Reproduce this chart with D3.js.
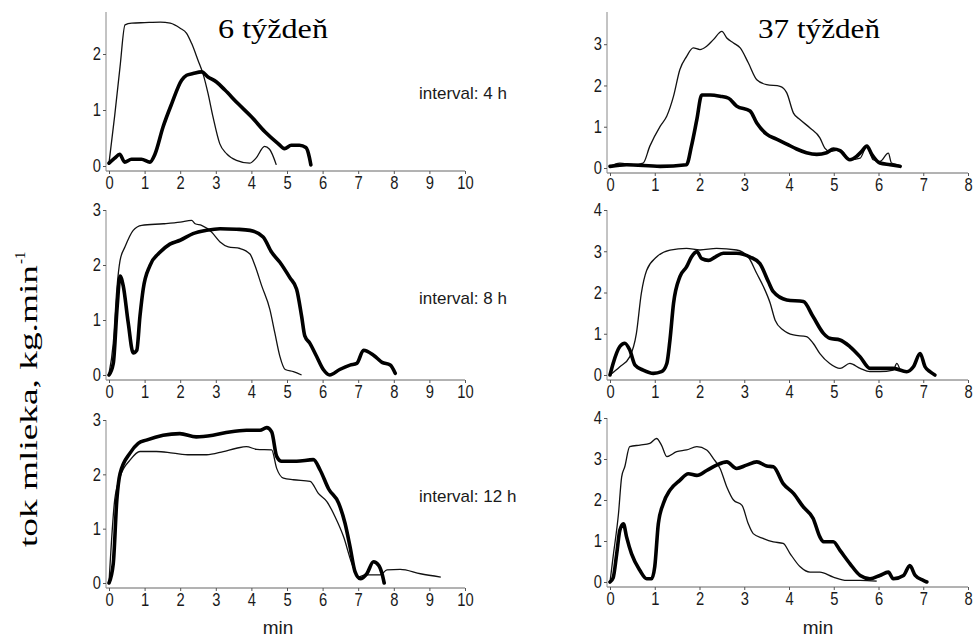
<!DOCTYPE html>
<html>
<head>
<meta charset="utf-8">
<script src="https://cdn.jsdelivr.net/npm/d3@7"></script>
<style>
  body { margin: 0; background: #fff; }
  text { font-family: "Liberation Sans", Arial, sans-serif; }
  .serif { font-family: "Liberation Serif", "Times New Roman", serif; }
</style>
</head>
<body>
<svg id="chart" width="976" height="642"></svg>
<script>
// Milk flow curves, [minute, kg/min]. Thin = control milking, thick = second milking.
// Week 6
const w6i4Thin = [[0,0.05],[0.16,0.9],[0.31,1.77],[0.45,2.52],[0.64,2.55],[1.0,2.56],[1.44,2.57],[1.72,2.55],[2.0,2.46],[2.18,2.37],[2.32,2.19],[2.5,1.89],[2.64,1.65],[2.78,1.3],[2.92,0.88],[3.11,0.4],[3.3,0.22],[3.58,0.1],[3.95,0.05],[4.13,0.14],[4.37,0.35],[4.51,0.3],[4.7,0.02]];
const w6i4Thick = [[0,0.05],[0.16,0.14],[0.3,0.21],[0.44,0.07],[0.63,0.12],[0.91,0.12],[1.15,0.07],[1.29,0.21],[1.52,0.7],[1.76,1.11],[2.04,1.53],[2.18,1.62],[2.36,1.65],[2.6,1.68],[2.78,1.59],[3.02,1.5],[3.25,1.36],[3.63,1.11],[4.0,0.88],[4.38,0.61],[4.75,0.4],[4.93,0.31],[5.12,0.37],[5.35,0.37],[5.53,0.33],[5.63,0.15],[5.67,0.02]];
const w6i8Thin = [[0,0.03],[0.12,0.58],[0.22,1.56],[0.31,2.08],[0.45,2.33],[0.68,2.63],[0.92,2.72],[1.53,2.75],[2.0,2.78],[2.32,2.81],[2.42,2.75],[2.6,2.72],[2.88,2.6],[3.12,2.42],[3.35,2.33],[3.68,2.3],[3.96,2.2],[4.1,1.99],[4.29,1.62],[4.52,1.19],[4.66,0.76],[4.8,0.34],[4.95,0.1],[5.18,0.06],[5.41,0.0]];
const w6i8Thick = [[0,0],[0.12,0.21],[0.23,1.25],[0.31,1.8],[0.4,1.62],[0.54,0.95],[0.68,0.4],[0.78,0.45],[0.87,1.07],[0.96,1.56],[1.15,1.99],[1.43,2.23],[1.71,2.38],[2.0,2.45],[2.36,2.57],[2.74,2.63],[3.12,2.66],[3.58,2.65],[3.96,2.63],[4.33,2.51],[4.57,2.23],[4.8,2.05],[5.08,1.77],[5.27,1.56],[5.41,1.07],[5.5,0.71],[5.64,0.58],[5.83,0.34],[6.02,0.1],[6.2,0.0],[6.48,0.1],[6.77,0.18],[6.96,0.21],[7.15,0.45],[7.43,0.36],[7.67,0.23],[7.9,0.18],[8.04,0.03]];
const w6i12Thin = [[0,0],[0.16,1.53],[0.31,1.95],[0.59,2.26],[0.87,2.42],[1.33,2.42],[1.8,2.39],[2.27,2.36],[2.74,2.36],[3.21,2.42],[3.58,2.48],[3.86,2.51],[4.15,2.46],[4.57,2.45],[4.71,2.11],[4.9,1.93],[5.18,1.9],[5.65,1.87],[5.88,1.65],[6.12,1.5],[6.35,1.22],[6.59,0.85],[6.82,0.36],[7.01,0.11],[7.2,0.15],[7.62,0.15],[7.81,0.24],[8.18,0.25],[8.75,0.17],[9.32,0.11]];
const w6i12Thick = [[0,0],[0.12,0.36],[0.22,1.53],[0.31,2.01],[0.59,2.39],[0.82,2.57],[1.05,2.63],[1.52,2.72],[1.99,2.75],[2.45,2.69],[2.92,2.72],[3.39,2.78],[3.86,2.81],[4.24,2.81],[4.43,2.86],[4.57,2.78],[4.71,2.33],[4.85,2.24],[5.27,2.24],[5.74,2.27],[5.93,2.08],[6.17,1.73],[6.45,1.47],[6.63,1.1],[6.77,0.67],[6.91,0.21],[7.06,0.08],[7.24,0.17],[7.43,0.39],[7.57,0.33],[7.67,0.17],[7.73,0]];
// Week 37
const w37i4Thin = [[0,0.04],[0.22,0.12],[0.52,0.08],[0.74,0.12],[0.89,0.53],[1.12,1.01],[1.27,1.26],[1.42,1.74],[1.56,2.38],[1.71,2.7],[1.86,2.91],[2.01,2.87],[2.16,2.95],[2.31,3.11],[2.5,3.31],[2.61,3.15],[2.76,3.03],[2.91,2.91],[3.09,2.55],[3.28,2.14],[3.5,2.02],[3.8,1.98],[3.95,1.82],[4.1,1.33],[4.25,1.17],[4.47,0.97],[4.69,0.73],[4.8,0.48],[4.91,0.4],[5.14,0.44],[5.36,0.2],[5.59,0.24],[5.74,0.53],[5.88,0.2],[6.03,0.16],[6.22,0.36],[6.29,0.12],[6.41,0.08],[6.52,0.04]];
const w37i4Thick = [[0,0.04],[0.37,0.08],[1.12,0.04],[1.71,0.08],[1.82,0.53],[1.94,1.17],[2.05,1.77],[2.24,1.77],[2.46,1.74],[2.65,1.69],[2.83,1.5],[3.13,1.38],[3.28,1.09],[3.5,0.82],[3.72,0.7],[3.95,0.58],[4.17,0.46],[4.39,0.37],[4.62,0.33],[4.84,0.37],[4.99,0.46],[5.14,0.42],[5.36,0.2],[5.51,0.28],[5.62,0.4],[5.74,0.53],[5.85,0.33],[6.03,0.12],[6.26,0.08],[6.48,0.04]];
const w37i8Thin = [[0,0],[0.22,0.2],[0.44,0.44],[0.59,1.01],[0.7,1.98],[0.82,2.54],[1.04,2.86],[1.34,3.03],[1.71,3.07],[2.01,3.03],[2.38,3.07],[2.83,3.03],[3.09,2.86],[3.28,2.46],[3.43,2.14],[3.58,1.74],[3.69,1.33],[3.87,1.09],[4.1,0.97],[4.39,0.93],[4.54,0.77],[4.69,0.52],[4.91,0.28],[5.14,0.16],[5.36,0.28],[5.59,0.16],[5.81,0.08],[6.03,0.08],[6.33,0.12],[6.41,0.28],[6.48,0.12]];
const w37i8Thick = [[0,0],[0.07,0.28],[0.22,0.69],[0.33,0.77],[0.44,0.61],[0.56,0.24],[0.74,0.12],[0.97,0.04],[1.15,0.08],[1.27,0.28],[1.34,0.85],[1.42,1.74],[1.56,2.38],[1.71,2.62],[1.82,2.86],[1.94,2.99],[2.05,2.82],[2.2,2.78],[2.35,2.86],[2.53,2.95],[2.83,2.95],[3.13,2.86],[3.35,2.7],[3.54,2.26],[3.65,2.02],[3.95,1.82],[4.32,1.78],[4.54,1.41],[4.77,1.01],[4.91,0.89],[5.14,0.85],[5.36,0.69],[5.59,0.44],[5.81,0.16],[6.03,0.16],[6.33,0.16],[6.63,0.08],[6.78,0.2],[6.93,0.52],[7.04,0.2],[7.15,0.08],[7.26,0]];
const w37i12Thin = [[0,0],[0.07,0.62],[0.19,1.67],[0.26,2.56],[0.33,2.81],[0.44,3.3],[0.67,3.34],[0.89,3.38],[1.04,3.5],[1.15,3.34],[1.27,3.06],[1.49,3.18],[1.71,3.22],[1.94,3.3],[2.16,3.22],[2.31,3.01],[2.46,2.77],[2.61,2.32],[2.76,2.0],[2.95,1.87],[3.09,1.42],[3.2,1.18],[3.43,1.06],[3.65,0.98],[3.87,0.94],[4.02,0.7],[4.25,0.37],[4.47,0.24],[4.69,0.24],[4.99,0.12],[5.29,0.04],[5.59,0.04],[5.96,0.02]];
const w37i12Thick = [[0,0],[0.07,0.1],[0.15,0.69],[0.22,1.26],[0.3,1.42],[0.37,1.1],[0.48,0.69],[0.67,0.28],[0.82,0.08],[0.93,0.08],[1.0,0.37],[1.08,1.42],[1.19,1.91],[1.34,2.24],[1.56,2.48],[1.75,2.64],[1.94,2.6],[2.16,2.72],[2.38,2.85],[2.61,2.93],[2.83,2.77],[3.05,2.85],[3.28,2.93],[3.5,2.83],[3.65,2.81],[3.87,2.4],[4.1,2.16],[4.32,1.83],[4.54,1.55],[4.69,1.1],[4.77,0.98],[4.99,0.98],[5.14,0.77],[5.36,0.45],[5.59,0.16],[5.81,0.08],[6.03,0.16],[6.22,0.24],[6.33,0.08],[6.56,0.16],[6.7,0.4],[6.82,0.16],[7.0,0.04],[7.08,0]];

// Axis ticks and texts
const xTicksW6 = [0,1,2,3,4,5,6,7,8,9,10];
const xTicksW37 = [0,1,2,3,4,5,6,7,8];
const yTicks3 = [0,1,2];
const yTicks4 = [0,1,2,3];
const yTicks5 = [0,1,2,3,4];
const titles = ["6 týždeň", "37 týždeň"];
const intervalLabels = ["interval: 4 h", "interval: 8 h", "interval: 12 h"];
const xLabel = "min";
const yLabel = "tok mlieka, kg.min";

// Panel geometry (pixels)
const panels = [
  {thin: w6i4Thin,   thick: w6i4Thick,   xMax: 10, xTicks: xTicksW6,  yMax: 2.75, yTicks: yTicks3, left: 109, right: 465, bottom: 166, top: 12},
  {thin: w6i8Thin,   thick: w6i8Thick,   xMax: 10, xTicks: xTicksW6,  yMax: 3,    yTicks: yTicks4, left: 109, right: 465, bottom: 375, top: 210},
  {thin: w6i12Thin,  thick: w6i12Thick,  xMax: 10, xTicks: xTicksW6,  yMax: 3,    yTicks: yTicks4, left: 109, right: 465, bottom: 583, top: 420},
  {thin: w37i4Thin,  thick: w37i4Thick,  xMax: 8,  xTicks: xTicksW37, yMax: 3.78, yTicks: yTicks4, left: 610, right: 968, bottom: 168, top: 12},
  {thin: w37i8Thin,  thick: w37i8Thick,  xMax: 8,  xTicks: xTicksW37, yMax: 4,    yTicks: yTicks5, left: 610, right: 968, bottom: 375, top: 210},
  {thin: w37i12Thin, thick: w37i12Thick, xMax: 8,  xTicks: xTicksW37, yMax: 4,    yTicks: yTicks5, left: 610, right: 968, bottom: 582, top: 418}
];

const svg = d3.select("#chart");
svg.append("rect").attr("width", 976).attr("height", 642).attr("fill", "#fff");

const axisGap = 5;     // x axis line sits a little below the zero level
const yAxisShift = 3;  // y axis line sits a little left of x = 0
const tickFont = 18;

panels.forEach(p => {
  const x = d3.scaleLinear().domain([0, p.xMax]).range([p.left, p.right]);
  const y = d3.scaleLinear().domain([0, p.yMax]).range([p.bottom, p.top]);
  const g = svg.append("g");
  const axisY = p.bottom + axisGap;
  const axisX = p.left - yAxisShift;

  // axis lines
  g.append("line").attr("x1", axisX).attr("x2", p.right).attr("y1", axisY).attr("y2", axisY)
    .attr("stroke", "#666").attr("stroke-width", 1);
  g.append("line").attr("x1", axisX).attr("x2", axisX).attr("y1", axisY).attr("y2", p.top)
    .attr("stroke", "#888").attr("stroke-width", 1);

  // x ticks (narrow, tall digits)
  const xa = g.append("g").attr("transform", `translate(0,${axisY})`)
    .call(d3.axisBottom(x).tickValues(p.xTicks).tickSize(3).tickSizeOuter(0).tickPadding(2).tickFormat(d3.format("d")));
  xa.select(".domain").remove();
  xa.selectAll(".tick line").attr("stroke", "#555");
  xa.selectAll(".tick text").attr("font-size", tickFont).attr("fill", "#1a1a1a")
    .attr("font-family", "Liberation Sans, Arial, sans-serif")
    .attr("transform", "scale(0.82,1)");

  // y ticks
  const ya = g.append("g").attr("transform", `translate(${axisX},0)`)
    .call(d3.axisLeft(y).tickValues(p.yTicks).tickSize(3).tickSizeOuter(0).tickPadding(3).tickFormat(d3.format("d")));
  ya.select(".domain").remove();
  ya.selectAll(".tick line").attr("stroke", "#555");
  ya.selectAll(".tick text").attr("font-size", tickFont).attr("fill", "#1a1a1a")
    .attr("font-family", "Liberation Sans, Arial, sans-serif")
    .attr("transform", "scale(0.82,1)");

  const line = d3.line().x(d => x(d[0])).y(d => y(d[1])).curve(d3.curveMonotoneX);
  g.append("path").datum(p.thin).attr("d", line).attr("fill", "none")
    .attr("stroke", "#111").attr("stroke-width", 1.3).attr("stroke-linejoin", "round");
  g.append("path").datum(p.thick).attr("d", line).attr("fill", "none")
    .attr("stroke", "#000").attr("stroke-width", 3.6).attr("stroke-linejoin", "round").attr("stroke-linecap", "round");
});

// column titles
svg.append("text").attr("class", "serif").attr("x", 218).attr("y", 38)
  .attr("font-size", 27).attr("fill", "#000").attr("textLength", 110).attr("lengthAdjust", "spacingAndGlyphs")
  .text(titles[0]);
svg.append("text").attr("class", "serif").attr("x", 758).attr("y", 38)
  .attr("font-size", 27).attr("fill", "#000").attr("textLength", 122).attr("lengthAdjust", "spacingAndGlyphs")
  .text(titles[1]);

// interval labels
const intervalY = [99, 304, 502];
intervalLabels.forEach((t, i) => {
  svg.append("text").attr("x", 419).attr("y", intervalY[i])
    .attr("font-size", 17).attr("fill", "#1a1a1a").text(t);
});

// x axis titles
[278, 818].forEach(cx => {
  svg.append("text").attr("x", cx).attr("y", 634).attr("text-anchor", "middle")
    .attr("font-size", 19).attr("fill", "#1a1a1a").text(xLabel);
});

// y axis title with superscript
const yl = svg.append("g").attr("transform", "translate(37,547) rotate(-90)");
yl.append("text").attr("class", "serif").attr("x", 0).attr("y", 0)
  .attr("font-size", 25).attr("fill", "#000").attr("textLength", 282).attr("lengthAdjust", "spacingAndGlyphs")
  .text(yLabel);
yl.append("text").attr("class", "serif").attr("x", 283).attr("y", -12)
  .attr("font-size", 15).attr("fill", "#000").text("-1");
</script>
</body>
</html>
